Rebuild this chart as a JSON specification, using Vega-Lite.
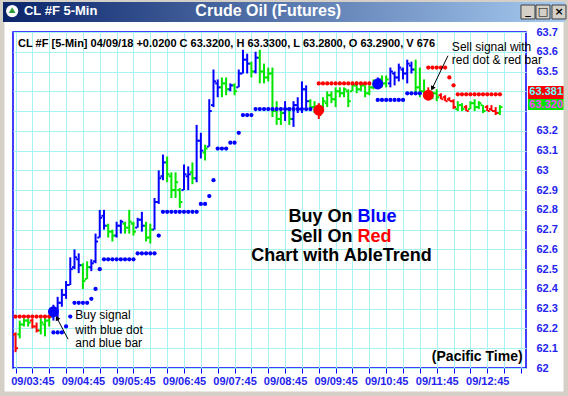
{
  "$schema": "https://vega.github.io/schema/vega-lite/v6.json",
  "width": 513,
  "height": 336,
  "autosize": {"type": "none"},
  "padding": {"left": 13, "top": 32, "right": 42, "bottom": 28},
  "background": "#ffffff",
  "config": {
    "view": {"stroke": "#0000ff", "strokeWidth": 1.5},
    "font": "Liberation Sans",
    "text": {"font": "Liberation Sans"}
  },
  "datasets": {
    "ohlc": [
      {"t":"2018-04-09T03:25:00Z","o":62.17,"h":62.18,"l":62.08,"c":62.10,"k":"r"},
      {"t":"2018-04-09T03:30:00Z","o":62.17,"h":62.24,"l":62.15,"c":62.22,"k":"g"},
      {"t":"2018-04-09T03:35:00Z","o":62.22,"h":62.25,"l":62.21,"c":62.24,"k":"g"},
      {"t":"2018-04-09T03:40:00Z","o":62.24,"h":62.25,"l":62.21,"c":62.23,"k":"g"},
      {"t":"2018-04-09T03:45:00Z","o":62.24,"h":62.25,"l":62.20,"c":62.21,"k":"r"},
      {"t":"2018-04-09T03:50:00Z","o":62.21,"h":62.23,"l":62.18,"c":62.19,"k":"r"},
      {"t":"2018-04-09T03:55:00Z","o":62.19,"h":62.25,"l":62.17,"c":62.23,"k":"g"},
      {"t":"2018-04-09T04:00:00Z","o":62.22,"h":62.26,"l":62.16,"c":62.24,"k":"g"},
      {"t":"2018-04-09T04:05:00Z","o":62.24,"h":62.27,"l":62.21,"c":62.26,"k":"g"},
      {"t":"2018-04-09T04:10:00Z","o":62.26,"h":62.32,"l":62.24,"c":62.30,"k":"b"},
      {"t":"2018-04-09T04:15:00Z","o":62.29,"h":62.36,"l":62.24,"c":62.33,"k":"b"},
      {"t":"2018-04-09T04:20:00Z","o":62.33,"h":62.40,"l":62.31,"c":62.37,"k":"b"},
      {"t":"2018-04-09T04:25:00Z","o":62.37,"h":62.44,"l":62.35,"c":62.42,"k":"b"},
      {"t":"2018-04-09T04:30:00Z","o":62.42,"h":62.56,"l":62.42,"c":62.50,"k":"b"},
      {"t":"2018-04-09T04:35:00Z","o":62.51,"h":62.60,"l":62.50,"c":62.56,"k":"b"},
      {"t":"2018-04-09T04:40:00Z","o":62.55,"h":62.58,"l":62.48,"c":62.52,"k":"b"},
      {"t":"2018-04-09T04:45:00Z","o":62.52,"h":62.53,"l":62.40,"c":62.44,"k":"g"},
      {"t":"2018-04-09T04:50:00Z","o":62.45,"h":62.54,"l":62.45,"c":62.51,"k":"g"},
      {"t":"2018-04-09T04:55:00Z","o":62.51,"h":62.55,"l":62.49,"c":62.53,"k":"b"},
      {"t":"2018-04-09T05:00:00Z","o":62.54,"h":62.68,"l":62.53,"c":62.64,"k":"b"},
      {"t":"2018-04-09T05:05:00Z","o":62.66,"h":62.80,"l":62.66,"c":62.76,"k":"b"},
      {"t":"2018-04-09T05:10:00Z","o":62.77,"h":62.80,"l":62.70,"c":62.72,"k":"b"},
      {"t":"2018-04-09T05:15:00Z","o":62.72,"h":62.73,"l":62.66,"c":62.69,"k":"g"},
      {"t":"2018-04-09T05:20:00Z","o":62.69,"h":62.70,"l":62.64,"c":62.67,"k":"g"},
      {"t":"2018-04-09T05:25:00Z","o":62.67,"h":62.74,"l":62.66,"c":62.72,"k":"b"},
      {"t":"2018-04-09T05:30:00Z","o":62.72,"h":62.75,"l":62.68,"c":62.74,"k":"b"},
      {"t":"2018-04-09T05:35:00Z","o":62.73,"h":62.74,"l":62.68,"c":62.71,"k":"g"},
      {"t":"2018-04-09T05:40:00Z","o":62.71,"h":62.80,"l":62.68,"c":62.74,"k":"g"},
      {"t":"2018-04-09T05:45:00Z","o":62.73,"h":62.74,"l":62.67,"c":62.69,"k":"g"},
      {"t":"2018-04-09T05:50:00Z","o":62.71,"h":62.76,"l":62.71,"c":62.75,"k":"b"},
      {"t":"2018-04-09T05:55:00Z","o":62.75,"h":62.79,"l":62.69,"c":62.72,"k":"b"},
      {"t":"2018-04-09T06:00:00Z","o":62.72,"h":62.74,"l":62.64,"c":62.66,"k":"g"},
      {"t":"2018-04-09T06:05:00Z","o":62.66,"h":62.73,"l":62.63,"c":62.70,"k":"g"},
      {"t":"2018-04-09T06:10:00Z","o":62.70,"h":62.86,"l":62.70,"c":62.84,"k":"b"},
      {"t":"2018-04-09T06:15:00Z","o":62.84,"h":63.00,"l":62.83,"c":62.96,"k":"b"},
      {"t":"2018-04-09T06:20:00Z","o":62.97,"h":63.08,"l":62.95,"c":63.04,"k":"b"},
      {"t":"2018-04-09T06:25:00Z","o":63.04,"h":63.07,"l":62.94,"c":62.98,"k":"g"},
      {"t":"2018-04-09T06:30:00Z","o":62.97,"h":62.99,"l":62.86,"c":62.90,"k":"g"},
      {"t":"2018-04-09T06:35:00Z","o":62.90,"h":62.99,"l":62.86,"c":62.94,"k":"g"},
      {"t":"2018-04-09T06:40:00Z","o":62.90,"h":62.91,"l":62.81,"c":62.84,"k":"g"},
      {"t":"2018-04-09T06:45:00Z","o":62.90,"h":63.03,"l":62.90,"c":62.98,"k":"b"},
      {"t":"2018-04-09T06:50:00Z","o":62.97,"h":63.02,"l":62.90,"c":62.98,"k":"b"},
      {"t":"2018-04-09T06:55:00Z","o":62.99,"h":63.04,"l":62.93,"c":62.96,"k":"g"},
      {"t":"2018-04-09T07:00:00Z","o":62.96,"h":63.23,"l":62.94,"c":63.15,"k":"b"},
      {"t":"2018-04-09T07:05:00Z","o":63.15,"h":63.19,"l":63.06,"c":63.10,"k":"b"},
      {"t":"2018-04-09T07:10:00Z","o":63.09,"h":63.13,"l":63.05,"c":63.11,"k":"g"},
      {"t":"2018-04-09T07:15:00Z","o":63.12,"h":63.36,"l":63.12,"c":63.30,"k":"b"},
      {"t":"2018-04-09T07:20:00Z","o":63.33,"h":63.51,"l":63.32,"c":63.45,"k":"b"},
      {"t":"2018-04-09T07:25:00Z","o":63.44,"h":63.46,"l":63.37,"c":63.42,"k":"b"},
      {"t":"2018-04-09T07:30:00Z","o":63.42,"h":63.47,"l":63.37,"c":63.44,"k":"g"},
      {"t":"2018-04-09T07:35:00Z","o":63.44,"h":63.47,"l":63.38,"c":63.41,"k":"g"},
      {"t":"2018-04-09T07:40:00Z","o":63.41,"h":63.44,"l":63.40,"c":63.43,"k":"b"},
      {"t":"2018-04-09T07:45:00Z","o":63.43,"h":63.44,"l":63.38,"c":63.40,"k":"g"},
      {"t":"2018-04-09T07:50:00Z","o":63.42,"h":63.51,"l":63.42,"c":63.49,"k":"b"},
      {"t":"2018-04-09T07:55:00Z","o":63.49,"h":63.61,"l":63.49,"c":63.56,"k":"b"},
      {"t":"2018-04-09T08:00:00Z","o":63.56,"h":63.59,"l":63.49,"c":63.54,"k":"b"},
      {"t":"2018-04-09T08:05:00Z","o":63.54,"h":63.55,"l":63.47,"c":63.50,"k":"g"},
      {"t":"2018-04-09T08:10:00Z","o":63.50,"h":63.60,"l":63.49,"c":63.57,"k":"b"},
      {"t":"2018-04-09T08:15:00Z","o":63.57,"h":63.61,"l":63.44,"c":63.50,"k":"g"},
      {"t":"2018-04-09T08:20:00Z","o":63.50,"h":63.54,"l":63.44,"c":63.47,"k":"g"},
      {"t":"2018-04-09T08:25:00Z","o":63.47,"h":63.52,"l":63.45,"c":63.49,"k":"g"},
      {"t":"2018-04-09T08:30:00Z","o":63.49,"h":63.52,"l":63.27,"c":63.30,"k":"g"},
      {"t":"2018-04-09T08:35:00Z","o":63.30,"h":63.35,"l":63.23,"c":63.26,"k":"g"},
      {"t":"2018-04-09T08:40:00Z","o":63.26,"h":63.32,"l":63.23,"c":63.29,"k":"g"},
      {"t":"2018-04-09T08:45:00Z","o":63.29,"h":63.35,"l":63.25,"c":63.31,"k":"b"},
      {"t":"2018-04-09T08:50:00Z","o":63.31,"h":63.32,"l":63.23,"c":63.26,"k":"g"},
      {"t":"2018-04-09T08:55:00Z","o":63.26,"h":63.35,"l":63.22,"c":63.33,"k":"b"},
      {"t":"2018-04-09T09:00:00Z","o":63.33,"h":63.37,"l":63.29,"c":63.31,"k":"b"},
      {"t":"2018-04-09T09:05:00Z","o":63.31,"h":63.45,"l":63.29,"c":63.41,"k":"b"},
      {"t":"2018-04-09T09:10:00Z","o":63.41,"h":63.43,"l":63.32,"c":63.35,"k":"b"},
      {"t":"2018-04-09T09:15:00Z","o":63.35,"h":63.36,"l":63.30,"c":63.32,"k":"g"},
      {"t":"2018-04-09T09:20:00Z","o":63.32,"h":63.35,"l":63.29,"c":63.31,"k":"g"},
      {"t":"2018-04-09T09:25:00Z","o":63.31,"h":63.34,"l":63.26,"c":63.28,"k":"r"},
      {"t":"2018-04-09T09:30:00Z","o":63.31,"h":63.37,"l":63.31,"c":63.35,"k":"g"},
      {"t":"2018-04-09T09:35:00Z","o":63.34,"h":63.40,"l":63.32,"c":63.38,"k":"g"},
      {"t":"2018-04-09T09:40:00Z","o":63.38,"h":63.40,"l":63.34,"c":63.36,"k":"g"},
      {"t":"2018-04-09T09:45:00Z","o":63.36,"h":63.42,"l":63.32,"c":63.40,"k":"g"},
      {"t":"2018-04-09T09:50:00Z","o":63.40,"h":63.42,"l":63.37,"c":63.39,"k":"g"},
      {"t":"2018-04-09T09:55:00Z","o":63.39,"h":63.42,"l":63.37,"c":63.41,"k":"g"},
      {"t":"2018-04-09T10:00:00Z","o":63.40,"h":63.41,"l":63.32,"c":63.35,"k":"g"},
      {"t":"2018-04-09T10:05:00Z","o":63.40,"h":63.44,"l":63.40,"c":63.43,"k":"g"},
      {"t":"2018-04-09T10:10:00Z","o":63.43,"h":63.45,"l":63.39,"c":63.41,"k":"g"},
      {"t":"2018-04-09T10:15:00Z","o":63.41,"h":63.44,"l":63.40,"c":63.43,"k":"g"},
      {"t":"2018-04-09T10:20:00Z","o":63.43,"h":63.43,"l":63.37,"c":63.39,"k":"g"},
      {"t":"2018-04-09T10:25:00Z","o":63.39,"h":63.43,"l":63.38,"c":63.42,"k":"g"},
      {"t":"2018-04-09T10:30:00Z","o":63.42,"h":63.46,"l":63.41,"c":63.45,"k":"g"},
      {"t":"2018-04-09T10:35:00Z","o":63.44,"h":63.47,"l":63.42,"c":63.46,"k":"b"},
      {"t":"2018-04-09T10:40:00Z","o":63.46,"h":63.48,"l":63.42,"c":63.44,"k":"g"},
      {"t":"2018-04-09T10:45:00Z","o":63.44,"h":63.48,"l":63.42,"c":63.46,"k":"g"},
      {"t":"2018-04-09T10:50:00Z","o":63.44,"h":63.52,"l":63.42,"c":63.50,"k":"b"},
      {"t":"2018-04-09T10:55:00Z","o":63.49,"h":63.50,"l":63.43,"c":63.47,"k":"b"},
      {"t":"2018-04-09T11:00:00Z","o":63.47,"h":63.54,"l":63.45,"c":63.52,"k":"b"},
      {"t":"2018-04-09T11:05:00Z","o":63.51,"h":63.52,"l":63.46,"c":63.49,"k":"b"},
      {"t":"2018-04-09T11:10:00Z","o":63.49,"h":63.56,"l":63.44,"c":63.54,"k":"b"},
      {"t":"2018-04-09T11:15:00Z","o":63.53,"h":63.55,"l":63.49,"c":63.51,"k":"b"},
      {"t":"2018-04-09T11:20:00Z","o":63.51,"h":63.56,"l":63.39,"c":63.42,"k":"g"},
      {"t":"2018-04-09T11:25:00Z","o":63.42,"h":63.52,"l":63.37,"c":63.40,"k":"g"},
      {"t":"2018-04-09T11:30:00Z","o":63.40,"h":63.46,"l":63.37,"c":63.38,"k":"g"},
      {"t":"2018-04-09T11:35:00Z","o":63.39,"h":63.42,"l":63.36,"c":63.37,"k":"r"},
      {"t":"2018-04-09T11:40:00Z","o":63.37,"h":63.40,"l":63.36,"c":63.39,"k":"g"},
      {"t":"2018-04-09T11:45:00Z","o":63.39,"h":63.41,"l":63.35,"c":63.37,"k":"g"},
      {"t":"2018-04-09T11:50:00Z","o":63.38,"h":63.39,"l":63.36,"c":63.36,"k":"r"},
      {"t":"2018-04-09T11:55:00Z","o":63.37,"h":63.38,"l":63.35,"c":63.35,"k":"r"},
      {"t":"2018-04-09T12:00:00Z","o":63.36,"h":63.37,"l":63.35,"c":63.35,"k":"r"},
      {"t":"2018-04-09T12:05:00Z","o":63.35,"h":63.36,"l":63.31,"c":63.32,"k":"r"},
      {"t":"2018-04-09T12:10:00Z","o":63.31,"h":63.35,"l":63.30,"c":63.33,"k":"g"},
      {"t":"2018-04-09T12:15:00Z","o":63.33,"h":63.34,"l":63.30,"c":63.31,"k":"g"},
      {"t":"2018-04-09T12:20:00Z","o":63.32,"h":63.33,"l":63.30,"c":63.30,"k":"r"},
      {"t":"2018-04-09T12:25:00Z","o":63.31,"h":63.35,"l":63.31,"c":63.34,"k":"g"},
      {"t":"2018-04-09T12:30:00Z","o":63.34,"h":63.36,"l":63.30,"c":63.32,"k":"g"},
      {"t":"2018-04-09T12:35:00Z","o":63.32,"h":63.35,"l":63.31,"c":63.34,"k":"g"},
      {"t":"2018-04-09T12:40:00Z","o":63.33,"h":63.33,"l":63.29,"c":63.30,"k":"g"},
      {"t":"2018-04-09T12:45:00Z","o":63.32,"h":63.33,"l":63.30,"c":63.30,"k":"r"},
      {"t":"2018-04-09T12:50:00Z","o":63.31,"h":63.33,"l":63.30,"c":63.30,"k":"r"},
      {"t":"2018-04-09T12:55:00Z","o":63.30,"h":63.32,"l":63.28,"c":63.29,"k":"r"},
      {"t":"2018-04-09T13:00:00Z","o":63.29,"h":63.33,"l":63.28,"c":63.32,"k":"g"}
    ],
    "dots": [
      {"t":"2018-04-09T03:25:00Z","v":62.26,"k":"r"},{"t":"2018-04-09T03:30:00Z","v":62.26,"k":"r"},{"t":"2018-04-09T03:35:00Z","v":62.26,"k":"r"},
      {"t":"2018-04-09T03:40:00Z","v":62.26,"k":"r"},{"t":"2018-04-09T03:45:00Z","v":62.26,"k":"r"},{"t":"2018-04-09T03:50:00Z","v":62.26,"k":"r"},
      {"t":"2018-04-09T03:55:00Z","v":62.26,"k":"r"},{"t":"2018-04-09T04:00:00Z","v":62.26,"k":"r"},{"t":"2018-04-09T04:05:00Z","v":62.26,"k":"r"},
      {"t":"2018-04-09T04:10:00Z","v":62.18,"k":"b"},{"t":"2018-04-09T04:15:00Z","v":62.18,"k":"b"},{"t":"2018-04-09T04:20:00Z","v":62.18,"k":"b"},
      {"t":"2018-04-09T04:25:00Z","v":62.21,"k":"b"},{"t":"2018-04-09T04:30:00Z","v":62.26,"k":"b"},
      {"t":"2018-04-09T04:35:00Z","v":62.33,"k":"b"},{"t":"2018-04-09T04:40:00Z","v":62.33,"k":"b"},{"t":"2018-04-09T04:45:00Z","v":62.33,"k":"b"},{"t":"2018-04-09T04:50:00Z","v":62.33,"k":"b"},
      {"t":"2018-04-09T04:55:00Z","v":62.35,"k":"b"},{"t":"2018-04-09T05:00:00Z","v":62.40,"k":"b"},{"t":"2018-04-09T05:05:00Z","v":62.50,"k":"b"},
      {"t":"2018-04-09T05:10:00Z","v":62.55,"k":"b"},{"t":"2018-04-09T05:15:00Z","v":62.55,"k":"b"},{"t":"2018-04-09T05:20:00Z","v":62.55,"k":"b"},{"t":"2018-04-09T05:25:00Z","v":62.55,"k":"b"},
      {"t":"2018-04-09T05:30:00Z","v":62.55,"k":"b"},{"t":"2018-04-09T05:35:00Z","v":62.55,"k":"b"},{"t":"2018-04-09T05:40:00Z","v":62.55,"k":"b"},{"t":"2018-04-09T05:45:00Z","v":62.55,"k":"b"},
      {"t":"2018-04-09T05:50:00Z","v":62.58,"k":"b"},{"t":"2018-04-09T05:55:00Z","v":62.58,"k":"b"},{"t":"2018-04-09T06:00:00Z","v":62.58,"k":"b"},{"t":"2018-04-09T06:05:00Z","v":62.58,"k":"b"},{"t":"2018-04-09T06:10:00Z","v":62.58,"k":"b"},
      {"t":"2018-04-09T06:15:00Z","v":62.67,"k":"b"},
      {"t":"2018-04-09T06:20:00Z","v":62.79,"k":"b"},{"t":"2018-04-09T06:25:00Z","v":62.79,"k":"b"},{"t":"2018-04-09T06:30:00Z","v":62.79,"k":"b"},{"t":"2018-04-09T06:35:00Z","v":62.79,"k":"b"},
      {"t":"2018-04-09T06:40:00Z","v":62.79,"k":"b"},{"t":"2018-04-09T06:45:00Z","v":62.79,"k":"b"},{"t":"2018-04-09T06:50:00Z","v":62.79,"k":"b"},{"t":"2018-04-09T06:55:00Z","v":62.79,"k":"b"},{"t":"2018-04-09T07:00:00Z","v":62.79,"k":"b"},
      {"t":"2018-04-09T07:05:00Z","v":62.83,"k":"b"},{"t":"2018-04-09T07:10:00Z","v":62.83,"k":"b"},{"t":"2018-04-09T07:15:00Z","v":62.87,"k":"b"},{"t":"2018-04-09T07:20:00Z","v":62.95,"k":"b"},
      {"t":"2018-04-09T07:25:00Z","v":63.11,"k":"b"},{"t":"2018-04-09T07:30:00Z","v":63.11,"k":"b"},{"t":"2018-04-09T07:35:00Z","v":63.11,"k":"b"},
      {"t":"2018-04-09T07:40:00Z","v":63.14,"k":"b"},{"t":"2018-04-09T07:45:00Z","v":63.14,"k":"b"},{"t":"2018-04-09T07:50:00Z","v":63.19,"k":"b"},
      {"t":"2018-04-09T07:55:00Z","v":63.28,"k":"b"},{"t":"2018-04-09T08:00:00Z","v":63.28,"k":"b"},{"t":"2018-04-09T08:05:00Z","v":63.28,"k":"b"},
      {"t":"2018-04-09T08:10:00Z","v":63.31,"k":"b"},{"t":"2018-04-09T08:15:00Z","v":63.31,"k":"b"},{"t":"2018-04-09T08:20:00Z","v":63.31,"k":"b"},{"t":"2018-04-09T08:25:00Z","v":63.31,"k":"b"},
      {"t":"2018-04-09T08:30:00Z","v":63.31,"k":"b"},{"t":"2018-04-09T08:35:00Z","v":63.31,"k":"b"},{"t":"2018-04-09T08:40:00Z","v":63.31,"k":"b"},{"t":"2018-04-09T08:45:00Z","v":63.31,"k":"b"},
      {"t":"2018-04-09T08:50:00Z","v":63.31,"k":"b"},{"t":"2018-04-09T08:55:00Z","v":63.31,"k":"b"},{"t":"2018-04-09T09:00:00Z","v":63.31,"k":"b"},{"t":"2018-04-09T09:05:00Z","v":63.31,"k":"b"},
      {"t":"2018-04-09T09:10:00Z","v":63.31,"k":"b"},{"t":"2018-04-09T09:15:00Z","v":63.31,"k":"b"},
      {"t":"2018-04-09T09:25:00Z","v":63.44,"k":"r"},{"t":"2018-04-09T09:30:00Z","v":63.44,"k":"r"},{"t":"2018-04-09T09:35:00Z","v":63.44,"k":"r"},{"t":"2018-04-09T09:40:00Z","v":63.44,"k":"r"},
      {"t":"2018-04-09T09:45:00Z","v":63.44,"k":"r"},{"t":"2018-04-09T09:50:00Z","v":63.44,"k":"r"},{"t":"2018-04-09T09:55:00Z","v":63.44,"k":"r"},{"t":"2018-04-09T10:00:00Z","v":63.44,"k":"r"},
      {"t":"2018-04-09T10:05:00Z","v":63.44,"k":"r"},{"t":"2018-04-09T10:10:00Z","v":63.44,"k":"r"},{"t":"2018-04-09T10:15:00Z","v":63.44,"k":"r"},{"t":"2018-04-09T10:20:00Z","v":63.44,"k":"r"},{"t":"2018-04-09T10:25:00Z","v":63.44,"k":"r"},
      {"t":"2018-04-09T10:35:00Z","v":63.356,"k":"b"},{"t":"2018-04-09T10:40:00Z","v":63.356,"k":"b"},{"t":"2018-04-09T10:45:00Z","v":63.356,"k":"b"},{"t":"2018-04-09T10:50:00Z","v":63.356,"k":"b"},
      {"t":"2018-04-09T10:55:00Z","v":63.356,"k":"b"},{"t":"2018-04-09T11:00:00Z","v":63.356,"k":"b"},{"t":"2018-04-09T11:05:00Z","v":63.356,"k":"b"},
      {"t":"2018-04-09T11:10:00Z","v":63.39,"k":"b"},{"t":"2018-04-09T11:15:00Z","v":63.39,"k":"b"},{"t":"2018-04-09T11:20:00Z","v":63.39,"k":"b"},{"t":"2018-04-09T11:25:00Z","v":63.39,"k":"b"},
      {"t":"2018-04-09T11:35:00Z","v":63.52,"k":"r"},{"t":"2018-04-09T11:40:00Z","v":63.52,"k":"r"},{"t":"2018-04-09T11:45:00Z","v":63.52,"k":"r"},{"t":"2018-04-09T11:50:00Z","v":63.52,"k":"r"},{"t":"2018-04-09T11:55:00Z","v":63.52,"k":"r"},
      {"t":"2018-04-09T12:00:00Z","v":63.47,"k":"r"},{"t":"2018-04-09T12:05:00Z","v":63.43,"k":"r"},
      {"t":"2018-04-09T12:10:00Z","v":63.385,"k":"r"},{"t":"2018-04-09T12:15:00Z","v":63.385,"k":"r"},{"t":"2018-04-09T12:20:00Z","v":63.385,"k":"r"},{"t":"2018-04-09T12:25:00Z","v":63.385,"k":"r"},
      {"t":"2018-04-09T12:30:00Z","v":63.385,"k":"r"},{"t":"2018-04-09T12:35:00Z","v":63.385,"k":"r"},{"t":"2018-04-09T12:40:00Z","v":63.385,"k":"r"},{"t":"2018-04-09T12:45:00Z","v":63.385,"k":"r"},
      {"t":"2018-04-09T12:50:00Z","v":63.385,"k":"r"},{"t":"2018-04-09T12:55:00Z","v":63.385,"k":"r"},{"t":"2018-04-09T13:00:00Z","v":63.385,"k":"r"}
    ],
    "sig": [
      {"t":"2018-04-09T04:10:00Z","v":62.285,"k":"b"},
      {"t":"2018-04-09T09:25:00Z","v":63.305,"k":"r"},
      {"t":"2018-04-09T10:35:00Z","v":63.437,"k":"b"},
      {"t":"2018-04-09T11:35:00Z","v":63.38,"k":"r"}
    ],
    "notes": [
      {"t":"2018-04-09T12:03:00Z","v":63.624,"txt":"Sell signal with"},
      {"t":"2018-04-09T12:03:00Z","v":63.557,"txt":"red dot & red bar"},
      {"t":"2018-04-09T04:36:00Z","v":62.268,"txt":"Buy signal"},
      {"t":"2018-04-09T04:36:00Z","v":62.192,"txt":"with blue dot"},
      {"t":"2018-04-09T04:36:00Z","v":62.124,"txt":"and blue bar"}
    ]
  },
  "layer": [
    {
      "data": {"name": "ohlc"},
      "mark": {"type": "rule", "strokeWidth": 2},
      "encoding": {
        "x": {
          "field": "t", "type": "temporal", "title": null,
          "scale": {"type": "utc", "nice": false, "domain": [
            {"year":2018,"month":4,"date":9,"hours":3,"minutes":22,"utc":true},
            {"year":2018,"month":4,"date":9,"hours":13,"minutes":31,"utc":true}]},
          "axis": {
            "title": null,
            "tickCount": 60,
            "values": [1523244300000, 1523245500000, 1523246700000, 1523247900000, 1523249100000, 1523250300000, 1523251500000, 1523252700000, 1523253900000, 1523255100000, 1523256300000, 1523257500000, 1523258700000, 1523259900000, 1523261100000, 1523262300000, 1523263500000, 1523264700000, 1523265900000, 1523267100000, 1523268300000, 1523269500000, 1523270700000, 1523271900000, 1523273100000, 1523274300000, 1523275500000, 1523276700000, 1523277900000, 1523279100000, 1523280300000],
            "labelExpr": "utcminutes(datum.value) == 45 ? utcFormat(datum.value, '%d/%H:%M') : ''",
            "grid": true, "gridColor": "#a8f2f2", "gridWidth": 1,
            "domain": false,
            "ticks": true, "tickColor": "#0000ff", "tickSize": 5, "tickWidth": 1,
            "labelColor": "#2424ee", "labelFont": "Liberation Sans", "labelFontSize": 11, "labelFontWeight": "bold",
            "labelPadding": 2, "labelFlush": false, "labelOverlap": false, "labelBound": false
          }
        },
        "y": {
          "field": "l", "type": "quantitative", "title": null,
          "scale": {"domain": [62, 63.7], "zero": false, "nice": false},
          "axis": {
            "title": null, "orient": "right",
            "tickCount": 40,
            "values": [62, 62.1, 62.2, 62.3, 62.4, 62.5, 62.6, 62.7, 62.8, 62.9, 63, 63.1, 63.2, 63.3, 63.4, 63.5, 63.6, 63.7],
            "labelExpr": "(datum.value == 63.3 || datum.value == 63.4) ? '' : '' + datum.value",
            "grid": true, "gridColor": "#a8f2f2", "gridWidth": 1,
            "domain": false, "ticks": false,
            "labelColor": "#2424ee", "labelFont": "Liberation Sans", "labelFontSize": 11, "labelFontWeight": "bold",
            "labelPadding": 10, "labelFlush": false, "labelOverlap": false, "labelBound": false
          }
        },
        "y2": {"field": "h"},
        "color": {"field": "k", "type": "nominal", "scale": {"domain": ["b", "g", "r"], "range": ["#0000ff", "#00e600", "#ff0000"]}, "legend": null}
      }
    },
    {
      "data": {"name": "ohlc"},
      "mark": {"type": "rule", "strokeWidth": 2, "xOffset": -2.5, "x2Offset": -0.5},
      "encoding": {
        "x": {"field": "t", "type": "temporal", "title": null},
        "x2": {"field": "t"},
        "y": {"field": "o", "type": "quantitative", "title": null},
        "color": {"field": "k", "type": "nominal", "legend": null}
      }
    },
    {
      "data": {"name": "ohlc"},
      "mark": {"type": "rule", "strokeWidth": 2, "xOffset": 0.5, "x2Offset": 2.5},
      "encoding": {
        "x": {"field": "t", "type": "temporal", "title": null},
        "x2": {"field": "t"},
        "y": {"field": "c", "type": "quantitative", "title": null},
        "color": {"field": "k", "type": "nominal", "legend": null}
      }
    },
    {
      "data": {"name": "dots"},
      "mark": {"type": "point", "filled": true, "size": 18, "opacity": 1},
      "encoding": {
        "x": {"field": "t", "type": "temporal", "title": null},
        "y": {"field": "v", "type": "quantitative", "title": null},
        "color": {"field": "k", "type": "nominal", "legend": null}
      }
    },
    {
      "data": {"name": "sig"},
      "mark": {"type": "point", "filled": true, "size": 120, "opacity": 1},
      "encoding": {
        "x": {"field": "t", "type": "temporal", "title": null},
        "y": {"field": "v", "type": "quantitative", "title": null},
        "color": {"field": "k", "type": "nominal", "legend": null}
      }
    },
    {
      "data": {"values": [{}]},
      "mark": {"type": "rule", "color": "#000000", "strokeWidth": 1},
      "encoding": {
        "x": {"datum": {"year":2018,"month":4,"date":9,"hours":4,"minutes":27,"seconds":20,"utc":true}, "type": "temporal", "title": null},
        "y": {"datum": 62.146, "type": "quantitative", "title": null},
        "x2": {"datum": {"year":2018,"month":4,"date":9,"hours":4,"minutes":14,"seconds":10,"utc":true}},
        "y2": {"datum": 62.253}
      }
    },
    {
      "data": {"values": [{}]},
      "mark": {"type": "point", "shape": "triangle", "filled": true, "color": "#000000", "size": 28, "angle": 332, "opacity": 1},
      "encoding": {
        "x": {"datum": {"year":2018,"month":4,"date":9,"hours":4,"minutes":14,"seconds":40,"utc":true}, "type": "temporal", "title": null},
        "y": {"datum": 62.250, "type": "quantitative", "title": null}
      }
    },
    {
      "data": {"values": [{}]},
      "mark": {"type": "rule", "color": "#000000", "strokeWidth": 1},
      "encoding": {
        "x": {"datum": {"year":2018,"month":4,"date":9,"hours":11,"minutes":58,"seconds":24,"utc":true}, "type": "temporal", "title": null},
        "y": {"datum": 63.580, "type": "quantitative", "title": null},
        "x2": {"datum": {"year":2018,"month":4,"date":9,"hours":11,"minutes":39,"seconds":24,"utc":true}},
        "y2": {"datum": 63.412}
      }
    },
    {
      "data": {"values": [{}]},
      "mark": {"type": "point", "shape": "triangle", "filled": true, "color": "#000000", "size": 28, "angle": 207, "opacity": 1},
      "encoding": {
        "x": {"datum": {"year":2018,"month":4,"date":9,"hours":11,"minutes":40,"seconds":10,"utc":true}, "type": "temporal", "title": null},
        "y": {"datum": 63.418, "type": "quantitative", "title": null}
      }
    },
    {
      "data": {"name": "notes"},
      "mark": {"type": "text", "align": "left", "baseline": "middle", "fontSize": 12, "color": "#000000"},
      "encoding": {
        "x": {"field": "t", "type": "temporal", "title": null},
        "y": {"field": "v", "type": "quantitative", "title": null},
        "text": {"field": "txt"}
      }
    },
    {
      "data": {"values": [{}]},
      "mark": {"type": "text", "align": "left", "baseline": "middle", "fontSize": 11, "fontWeight": "bold", "color": "#000000"},
      "encoding": {
        "x": {"datum": {"year":2018,"month":4,"date":9,"hours":3,"minutes":28,"utc":true}, "type": "temporal", "title": null},
        "y": {"datum": 63.639, "type": "quantitative", "title": null},
        "text": {"value": "CL #F [5-Min] 04/09/18  +0.0200 C 63.3200, H 63.3300, L 63.2800, O 63.2900, V 676"}
      }
    },
    {
      "data": {"values": [{}]},
      "mark": {"type": "text", "align": "right", "baseline": "middle", "fontSize": 18, "fontWeight": "bold", "color": "#000000"},
      "encoding": {
        "x": {"datum": {"year":2018,"month":4,"date":9,"hours":10,"minutes":5,"utc":true}, "type": "temporal", "title": null},
        "y": {"datum": 62.764, "type": "quantitative", "title": null},
        "text": {"value": "Buy On"}
      }
    },
    {
      "data": {"values": [{}]},
      "mark": {"type": "text", "align": "left", "baseline": "middle", "fontSize": 18, "fontWeight": "bold", "color": "#0000ff"},
      "encoding": {
        "x": {"datum": {"year":2018,"month":4,"date":9,"hours":10,"minutes":11,"utc":true}, "type": "temporal", "title": null},
        "y": {"datum": 62.764, "type": "quantitative", "title": null},
        "text": {"value": "Blue"}
      }
    },
    {
      "data": {"values": [{}]},
      "mark": {"type": "text", "align": "right", "baseline": "middle", "fontSize": 18, "fontWeight": "bold", "color": "#000000"},
      "encoding": {
        "x": {"datum": {"year":2018,"month":4,"date":9,"hours":10,"minutes":5,"utc":true}, "type": "temporal", "title": null},
        "y": {"datum": 62.663, "type": "quantitative", "title": null},
        "text": {"value": "Sell On"}
      }
    },
    {
      "data": {"values": [{}]},
      "mark": {"type": "text", "align": "left", "baseline": "middle", "fontSize": 18, "fontWeight": "bold", "color": "#ff0000"},
      "encoding": {
        "x": {"datum": {"year":2018,"month":4,"date":9,"hours":10,"minutes":11,"utc":true}, "type": "temporal", "title": null},
        "y": {"datum": 62.663, "type": "quantitative", "title": null},
        "text": {"value": "Red"}
      }
    },
    {
      "data": {"values": [{}]},
      "mark": {"type": "text", "align": "center", "baseline": "middle", "fontSize": 18, "fontWeight": "bold", "color": "#000000"},
      "encoding": {
        "x": {"datum": {"year":2018,"month":4,"date":9,"hours":9,"minutes":52,"utc":true}, "type": "temporal", "title": null},
        "y": {"datum": 62.566, "type": "quantitative", "title": null},
        "text": {"value": "Chart with AbleTrend"}
      }
    },
    {
      "data": {"values": [{}]},
      "mark": {"type": "text", "align": "right", "baseline": "middle", "fontSize": 14, "fontWeight": "bold", "color": "#000000"},
      "encoding": {
        "x": {"datum": {"year":2018,"month":4,"date":9,"hours":13,"minutes":27,"utc":true}, "type": "temporal", "title": null},
        "y": {"datum": 62.055, "type": "quantitative", "title": null},
        "text": {"value": "(Pacific Time)"}
      }
    },
    {
      "data": {"values": [{}]},
      "mark": {"type": "rect", "color": "#00e600"},
      "encoding": {
        "x": {"datum": {"year":2018,"month":4,"date":9,"hours":13,"minutes":33,"seconds":20,"utc":true}, "type": "temporal", "title": null},
        "x2": {"datum": {"year":2018,"month":4,"date":9,"hours":14,"minutes":25,"utc":true}},
        "y": {"datum": 63.361, "type": "quantitative", "title": null},
        "y2": {"datum": 63.305}
      }
    },
    {
      "data": {"values": [{}]},
      "mark": {"type": "text", "align": "left", "baseline": "middle", "fontSize": 11, "fontWeight": "bold", "color": "#ff44ff"},
      "encoding": {
        "x": {"datum": {"year":2018,"month":4,"date":9,"hours":13,"minutes":35,"seconds":0,"utc":true}, "type": "temporal", "title": null},
        "y": {"datum": 63.333, "type": "quantitative", "title": null},
        "text": {"value": "63.320"}
      }
    },
    {
      "data": {"values": [{}]},
      "mark": {"type": "rect", "color": "#ff0000"},
      "encoding": {
        "x": {"datum": {"year":2018,"month":4,"date":9,"hours":13,"minutes":33,"seconds":20,"utc":true}, "type": "temporal", "title": null},
        "x2": {"datum": {"year":2018,"month":4,"date":9,"hours":14,"minutes":25,"utc":true}},
        "y": {"datum": 63.427, "type": "quantitative", "title": null},
        "y2": {"datum": 63.361}
      }
    },
    {
      "data": {"values": [{}]},
      "mark": {"type": "text", "align": "left", "baseline": "middle", "fontSize": 11, "fontWeight": "bold", "color": "#66ffff"},
      "encoding": {
        "x": {"datum": {"year":2018,"month":4,"date":9,"hours":13,"minutes":35,"seconds":0,"utc":true}, "type": "temporal", "title": null},
        "y": {"datum": 63.394, "type": "quantitative", "title": null},
        "text": {"value": "63.381"}
      }
    },
    {
      "data": {"values": [{}]},
      "mark": {"type": "rect", "filled": false, "color": "#d4d0c8", "strokeWidth": 9},
      "encoding": {
        "x": {"datum": {"year":2018,"month":4,"date":9,"hours":3,"minutes":6,"seconds":34,"utc":true}, "type": "temporal", "title": null},
        "x2": {"datum": {"year":2018,"month":4,"date":9,"hours":14,"minutes":20,"seconds":52,"utc":true}},
        "y": {"datum": 63.862, "type": "quantitative", "title": null},
        "y2": {"datum": 61.858}
      }
    },
    {
      "data": {"values": [{}]},
      "mark": {"type": "rect", "color": {"gradient": "linear", "x1": 0, "x2": 1, "y1": 0, "y2": 0, "stops": [{"offset": 0, "color": "#0a246a"}, {"offset": 1, "color": "#a6caf0"}]}},
      "encoding": {
        "x": {"datum": {"year":2018,"month":4,"date":9,"hours":3,"minutes":10,"seconds":8,"utc":true}, "type": "temporal", "title": null},
        "x2": {"datum": {"year":2018,"month":4,"date":9,"hours":14,"minutes":17,"seconds":18,"utc":true}},
        "y": {"datum": 63.852, "type": "quantitative", "title": null},
        "y2": {"datum": 63.7506}
      }
    },
    {
      "data": {"values": [{}]},
      "mark": {"type": "rect", "color": "#d4d0c8", "stroke": "#404040", "strokeWidth": 1},
      "encoding": {
        "x": {"datum": {"year":2018,"month":4,"date":9,"hours":13,"minutes":25,"seconds":2,"utc":true}, "type": "temporal", "title": null},
        "x2": {"datum": {"year":2018,"month":4,"date":9,"hours":13,"minutes":41,"seconds":41,"utc":true}},
        "y": {"datum": 63.8366, "type": "quantitative", "title": null},
        "y2": {"datum": 63.7658}
      }
    },
    {
      "data": {"values": [{}]},
      "mark": {"type": "rect", "color": "#d4d0c8", "stroke": "#404040", "strokeWidth": 1},
      "encoding": {
        "x": {"datum": {"year":2018,"month":4,"date":9,"hours":13,"minutes":42,"seconds":52,"utc":true}, "type": "temporal", "title": null},
        "x2": {"datum": {"year":2018,"month":4,"date":9,"hours":13,"minutes":59,"seconds":30,"utc":true}},
        "y": {"datum": 63.8366, "type": "quantitative", "title": null},
        "y2": {"datum": 63.7658}
      }
    },
    {
      "data": {"values": [{}]},
      "mark": {"type": "rect", "color": "#d4d0c8", "stroke": "#404040", "strokeWidth": 1},
      "encoding": {
        "x": {"datum": {"year":2018,"month":4,"date":9,"hours":14,"minutes":1,"seconds":50,"utc":true}, "type": "temporal", "title": null},
        "x2": {"datum": {"year":2018,"month":4,"date":9,"hours":14,"minutes":18,"seconds":26,"utc":true}},
        "y": {"datum": 63.8366, "type": "quantitative", "title": null},
        "y2": {"datum": 63.7658}
      }
    },
    {
      "data": {"values": [{}]},
      "mark": {"type": "text", "align": "center", "baseline": "middle", "fontSize": 11, "fontWeight": "bold", "color": "#000000", "font": "DejaVu Sans"},
      "encoding": {
        "x": {"datum": {"year":2018,"month":4,"date":9,"hours":13,"minutes":33,"seconds":20,"utc":true}, "type": "temporal", "title": null},
        "y": {"datum": 63.804, "type": "quantitative", "title": null},
        "text": {"value": "_"}
      }
    },
    {
      "data": {"values": [{}]},
      "mark": {"type": "text", "align": "center", "baseline": "middle", "fontSize": 11, "fontWeight": "bold", "color": "#000000", "font": "DejaVu Sans"},
      "encoding": {
        "x": {"datum": {"year":2018,"month":4,"date":9,"hours":13,"minutes":51,"seconds":11,"utc":true}, "type": "temporal", "title": null},
        "y": {"datum": 63.801, "type": "quantitative", "title": null},
        "text": {"value": "□"}
      }
    },
    {
      "data": {"values": [{}]},
      "mark": {"type": "text", "align": "center", "baseline": "middle", "fontSize": 11, "fontWeight": "bold", "color": "#000000", "font": "DejaVu Sans"},
      "encoding": {
        "x": {"datum": {"year":2018,"month":4,"date":9,"hours":14,"minutes":10,"seconds":10,"utc":true}, "type": "temporal", "title": null},
        "y": {"datum": 63.801, "type": "quantitative", "title": null},
        "text": {"value": "×"}
      }
    },
    {
      "data": {"values": [{}]},
      "mark": {"type": "text", "align": "center", "baseline": "middle", "fontSize": 16, "fontWeight": "bold", "color": "#ffffff"},
      "encoding": {
        "x": {"datum": {"year":2018,"month":4,"date":9,"hours":8,"minutes":25,"utc":true}, "type": "temporal", "title": null},
        "y": {"datum": 63.806, "type": "quantitative", "title": null},
        "text": {"value": "Crude Oil (Futures)"}
      }
    },
    {
      "data": {"values": [{}]},
      "mark": {"type": "text", "align": "left", "baseline": "middle", "fontSize": 13, "fontWeight": "bold", "color": "#ffffff"},
      "encoding": {
        "x": {"datum": {"year":2018,"month":4,"date":9,"hours":3,"minutes":35,"utc":true}, "type": "temporal", "title": null},
        "y": {"datum": 63.806, "type": "quantitative", "title": null},
        "text": {"value": "CL #F 5-Min"}
      }
    },
    {
      "data": {"values": [{}]},
      "mark": {"type": "point", "shape": "circle", "filled": true, "color": "#ffffff", "size": 150, "opacity": 1},
      "encoding": {
        "x": {"datum": {"year":2018,"month":4,"date":9,"hours":3,"minutes":21,"utc":true}, "type": "temporal", "title": null},
        "y": {"datum": 63.806, "type": "quantitative", "title": null}
      }
    },
    {
      "data": {"values": [{}]},
      "mark": {"type": "point", "shape": "triangle", "filled": true, "color": "#2e9e3a", "size": 45, "opacity": 1},
      "encoding": {
        "x": {"datum": {"year":2018,"month":4,"date":9,"hours":3,"minutes":21,"utc":true}, "type": "temporal", "title": null},
        "y": {"datum": 63.806, "type": "quantitative", "title": null}
      }
    }
  ]
}
